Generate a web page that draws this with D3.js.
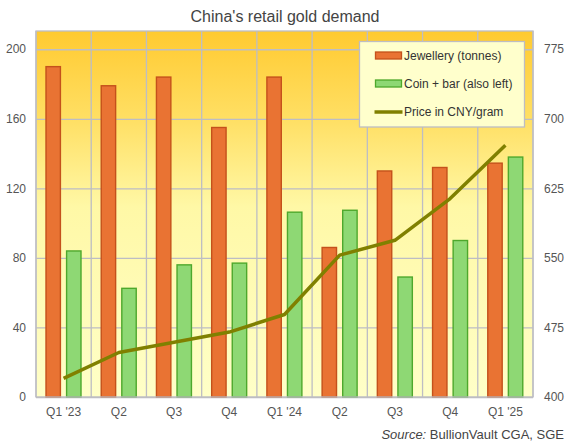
<!DOCTYPE html>
<html>
<head>
<meta charset="utf-8">
<script src="https://cdn.jsdelivr.net/npm/d3@7/dist/d3.min.js"></script>
<style>
  html, body { margin: 0; padding: 0; background: #fff; }
  svg { display: block; font-family: "Liberation Sans", Arial, sans-serif; }
</style>
</head>
<body>
<div id="chart"></div>
<script>
const quarters   = ["Q1 '23", "Q2", "Q3", "Q4", "Q1 '24", "Q2", "Q3", "Q4", "Q1 '25"];
const jewellery  = [190, 179, 184, 155, 184, 86, 130, 132, 134.5];
const coinBar    = [84, 62.5, 76, 77, 106.3, 107.4, 69, 90, 138];
const priceCny   = [420, 448, 459, 470, 489, 553, 569, 614, 671.5];
const leftTicks  = [0, 40, 80, 120, 160, 200];
const rightTicks = [400, 475, 550, 625, 700, 775];

const W = 573, H = 442;
const m = { top: 31, right: 40, bottom: 45, left: 36 };
const iw = W - m.left - m.right;
const ih = H - m.top - m.bottom;

const svg = d3.select("#chart").append("svg").attr("width", W).attr("height", H);

// background gradient
const defs = svg.append("defs");
const grad = defs.append("linearGradient").attr("id", "bg").attr("x1", 0).attr("y1", 0).attr("x2", 0).attr("y2", 1);
grad.append("stop").attr("offset", "0%").attr("stop-color", "#FFCA30");
grad.append("stop").attr("offset", "25%").attr("stop-color", "#FFE066");
grad.append("stop").attr("offset", "48%").attr("stop-color", "#FFF8A6");
grad.append("stop").attr("offset", "100%").attr("stop-color", "#FFFFC8");

const g = svg.append("g").attr("transform", `translate(${m.left},${m.top})`);

const idx = quarters.map((q, i) => i);
const x0 = d3.scaleBand().domain(idx).range([0, iw]).padding(0);
const x1 = d3.scaleBand().domain(["jew", "coin"]).range([10, 45]).paddingInner(0.3);
const yL = d3.scaleLinear().domain([0, 210.5]).range([ih, 0]);
const yR = d3.scaleLinear().domain([400, 400 + 210.5 * 1.875]).range([ih, 0]);

g.append("rect").attr("width", iw).attr("height", ih).attr("fill", "url(#bg)");

// gridlines
const gy = g.append("g").call(d3.axisLeft(yL).tickValues(leftTicks).tickSize(-iw).tickFormat(""));
gy.selectAll("line").attr("stroke", "#BDBDC4").attr("stroke-width", 1.3);
gy.select(".domain").remove();

const gx = g.append("g");
gx.selectAll("line").data(d3.range(quarters.length + 1)).enter().append("line")
  .attr("x1", d => d * x0.step()).attr("x2", d => d * x0.step())
  .attr("y1", 0).attr("y2", ih)
  .attr("stroke", "#BDBDC4").attr("stroke-width", 1.3);

// bars
g.selectAll(".jew").data(jewellery).enter().append("rect")
  .attr("x", (d, i) => x0(i) + x1("jew"))
  .attr("y", d => yL(d))
  .attr("width", x1.bandwidth())
  .attr("height", d => ih - yL(d))
  .attr("fill", "#E97333").attr("stroke", "#C4511B").attr("stroke-width", 1.4);

g.selectAll(".coin").data(coinBar).enter().append("rect")
  .attr("x", (d, i) => x0(i) + x1("coin"))
  .attr("y", d => yL(d))
  .attr("width", x1.bandwidth())
  .attr("height", d => ih - yL(d))
  .attr("fill", "#8ED874").attr("stroke", "#4EA82C").attr("stroke-width", 1.4);

// price line
const line = d3.line()
  .x((d, i) => x0(i) + x0.bandwidth() / 2)
  .y(d => yR(d));
g.append("path").datum(priceCny)
  .attr("d", line).attr("fill", "none")
  .attr("stroke", "#808000").attr("stroke-width", 3.5).attr("stroke-linejoin", "round");

// plot border
g.append("rect").attr("width", iw).attr("height", ih)
  .attr("fill", "none").attr("stroke", "#BDBDC4").attr("stroke-width", 1.3);

// axes labels
const tickStyle = sel => sel.attr("font-size", 12).attr("fill", "#555");
g.selectAll(".lt").data(leftTicks).enter().append("text")
  .attr("x", -10).attr("y", d => yL(d)).attr("dy", "0.35em")
  .attr("text-anchor", "end").call(tickStyle).text(d => d);
g.selectAll(".rt").data(rightTicks).enter().append("text")
  .attr("x", iw + 11).attr("y", d => yR(d)).attr("dy", "0.35em")
  .attr("text-anchor", "start").call(tickStyle).text(d => d);
g.selectAll(".xt").data(quarters).enter().append("text")
  .attr("x", (d, i) => x0(i) + x0.bandwidth() / 2).attr("y", ih + 15).attr("dy", "0.35em")
  .attr("text-anchor", "middle").call(tickStyle).text(d => d);

// title
svg.append("text").attr("x", 285).attr("y", 16).attr("dy", "0.35em")
  .attr("text-anchor", "middle").attr("font-size", 16).attr("fill", "#444")
  .text("China's retail gold demand");

// source
const src = svg.append("text").attr("x", 564).attr("y", 434).attr("dy", "0.35em")
  .attr("text-anchor", "end").attr("font-size", 13).attr("fill", "#444");
src.append("tspan").attr("font-style", "italic").text("Source:");
src.append("tspan").text(" BullionVault CGA, SGE");

// legend
const lg = svg.append("g").attr("transform", "translate(359.5,41.5)");
lg.append("rect").attr("width", 165).attr("height", 85.5)
  .attr("fill", "#FFFFCC").attr("stroke", "#BDBDC4").attr("stroke-width", 1.3);
const legendItems = [
  { label: "Jewellery (tonnes)", type: "bar", fill: "#E97333", stroke: "#C4511B" },
  { label: "Coin + bar (also left)", type: "bar", fill: "#8ED874", stroke: "#4EA82C" },
  { label: "Price in CNY/gram", type: "line", stroke: "#808000" }
];
const li = lg.selectAll(".li").data(legendItems).enter().append("g")
  .attr("transform", (d, i) => `translate(0,${14 + i * 28})`);
li.filter(d => d.type === "bar").append("rect")
  .attr("x", 16).attr("y", -3.5).attr("width", 26).attr("height", 7)
  .attr("fill", d => d.fill).attr("stroke", d => d.stroke).attr("stroke-width", 1.3);
li.filter(d => d.type === "line").append("line")
  .attr("x1", 15).attr("x2", 43).attr("y1", 0.5).attr("y2", 0.5)
  .attr("stroke", d => d.stroke).attr("stroke-width", 3.5);
li.append("text").attr("x", 44.5).attr("y", 0).attr("dy", "0.35em")
  .attr("font-size", 12).attr("fill", "#333").text(d => d.label);
</script>
</body>
</html>
